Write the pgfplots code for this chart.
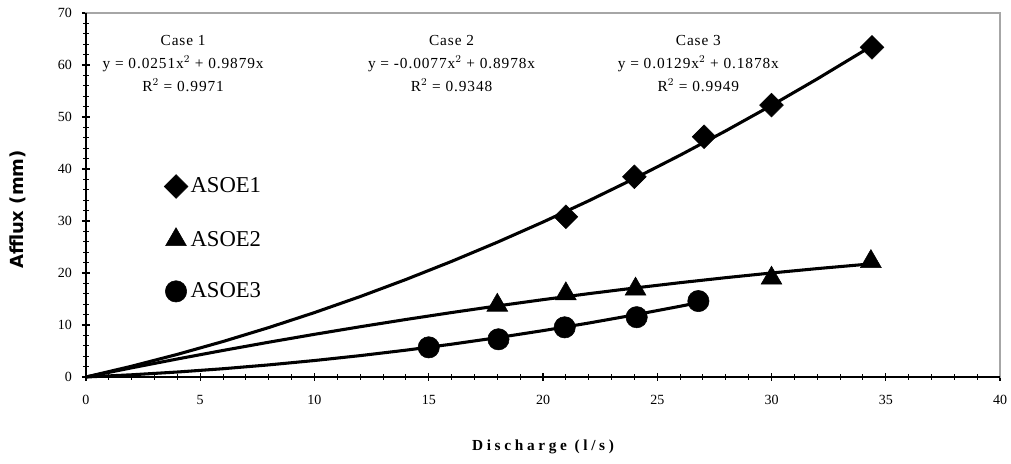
\documentclass[border=0pt]{standalone}
\usepackage{fontspec}
\setmainfont{Liberation Serif}
\newfontfamily\labfont{DejaVu Sans}
\usepackage{pgfplots}
\pgfplotsset{compat=1.18}
\begin{document}
\begin{tikzpicture}
\useasboundingbox (-64.5pt,-65.25pt) rectangle (693.75pt,282.75pt);
\begin{axis}[
    scale only axis,
    width=685.5pt, height=273pt,
    xmin=0, xmax=40, ymin=0, ymax=70,
    xtick={0,5,...,40}, ytick={0,10,...,70},
    minor x tick num=4, minor y tick num=4,
    xtick pos=bottom, ytick pos=left,
    tick align=center,
    major tick length=6pt, minor tick length=4pt,
    every tick/.style={black, line width=0.8pt},
    axis line style={draw=gray!70, line width=1pt},
    tick label style={font=\fontsize{10.5}{12}\selectfont},
    /pgf/number format/assume math mode=true,
    xticklabel style={yshift=-7pt},
    yticklabel style={xshift=-4pt},
    xlabel={\bfseries Discharge (l/s)},
    xlabel style={at={(rel axis cs:0.5,0)}, anchor=center, yshift=-52.5pt,
        font=\fontsize{11.5}{13}\selectfont\addfontfeature{LetterSpace=24}},
    ylabel={Afflux (mm)},
    ylabel style={at={(axis description cs:-0.0744,0.46)}, anchor=center,
        font=\labfont\bfseries\fontsize{13.5}{15}\selectfont},
    clip=false,
    legend style={draw=none, fill=none, at={(0.0855,0.556)}, anchor=north west,
        font=\fontsize{17}{20}\selectfont, row sep=22pt,
        inner sep=0pt, outer sep=0pt},
    legend cell align=left,
    legend image code/.code={\draw plot coordinates {(0.25cm,0cm)};},
]
% trend lines
\addplot[black, line width=2.3pt, forget plot] coordinates {
 (0,0) (2,2.076) (4,4.353) (6,6.831) (8,9.510) (10,12.389) (12,15.469)
 (14,18.750) (16,22.232) (18,25.915) (20,29.798) (22,33.882) (24,38.167)
 (26,42.653) (28,47.340) (30,52.227) (32,57.315) (34.4,63.686)};
\addplot[black, line width=2.3pt, forget plot] coordinates {
 (0,0) (2,1.765) (4,3.468) (6,5.110) (8,6.690) (10,8.208) (12,9.665)
 (14,11.060) (16,12.394) (18,13.666) (20,14.876) (22,16.025) (24,17.112)
 (26,18.138) (28,19.102) (30,20.004) (32,20.845) (34.4,21.772)};
\addplot[black, line width=2.3pt, forget plot] coordinates {
 (0,0) (2,0.427) (4,0.958) (6,1.591) (8,2.328) (10,3.168) (12,4.111)
 (14,5.158) (16,6.307) (18,7.560) (20,8.916) (22,10.375) (24,11.938)
 (26,13.603) (26.8,14.298)};
% measured points
\addplot[only marks, black, mark=square*, mark size=6.3pt,
    every mark/.append style={rotate=45}] coordinates {
 (21,30.8) (24,38.5) (27.05,46.2) (30,52.3) (34.4,63.4)};
\addplot[only marks, black, mark=triangle*, mark size=9pt] coordinates {
 (18,13.8) (21,16.0) (24.05,16.9) (30,19.0) (34.35,22.2)};
\addplot[only marks, black, mark=*, mark size=8pt] coordinates {
 (15,5.7) (18.05,7.25) (20.95,9.55) (24.1,11.5) (26.8,14.6)};
\legend{ASOE1,ASOE2,ASOE3}
% axis lines left and bottom in black
\draw[black, line width=1pt] (rel axis cs:0,1) -- (rel axis cs:0,0) -- (rel axis cs:1,0);
% trend line equations
\node[align=center, font=\fontsize{11.5}{17}\selectfont\addfontfeature{LetterSpace=6}] at (axis cs:4.25,60.3)
 {Case 1\\ y = 0.0251x$^{2}$ + 0.9879x\\ R$^{2}$ = 0.9971};
\node[align=center, font=\fontsize{11.5}{17}\selectfont\addfontfeature{LetterSpace=6}] at (axis cs:16.0,60.3)
 {Case 2\\ y = -0.0077x$^{2}$ + 0.8978x\\ R$^{2}$ = 0.9348};
\node[align=center, font=\fontsize{11.5}{17}\selectfont\addfontfeature{LetterSpace=6}] at (axis cs:26.8,60.3)
 {Case 3\\ y = 0.0129x$^{2}$ + 0.1878x\\ R$^{2}$ = 0.9949};
\end{axis}
\end{tikzpicture}
\end{document}
